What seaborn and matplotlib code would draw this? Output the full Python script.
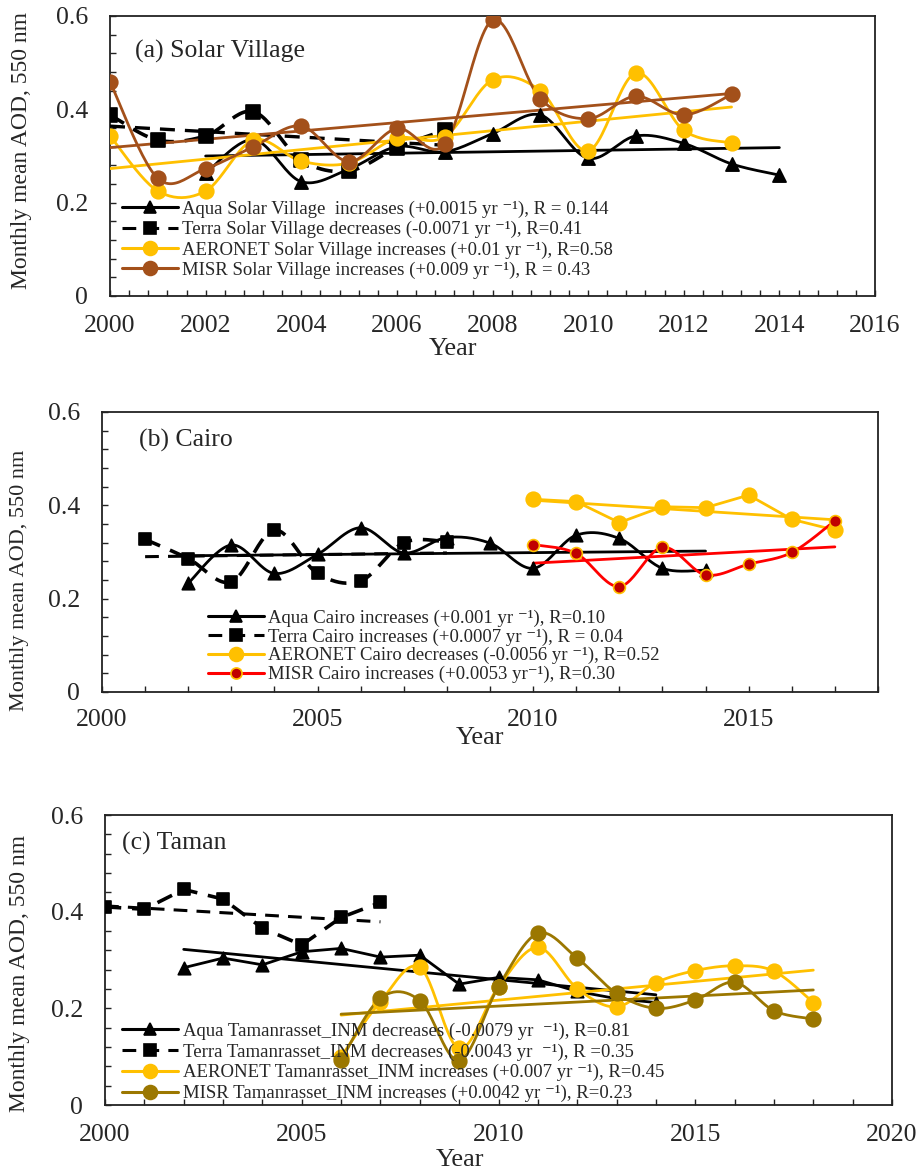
import numpy as np
import pandas as pd
import matplotlib
matplotlib.use("Agg")
import matplotlib.pyplot as plt
from matplotlib.lines import Line2D
from matplotlib.ticker import MultipleLocator
import seaborn as sns

sns.set_theme(style="white")
plt.rcParams['font.family'] = ['Liberation Serif', 'DejaVu Serif']

SUP = "\u207b\u00b9"  # superscript -1

# ---------------- data: (a) Solar Village ----------------
a_aqua_years = list(range(2002, 2015))
a_aqua = [0.263, 0.335, 0.245, 0.272, 0.320, 0.309, 0.348, 0.388, 0.295, 0.343, 0.327, 0.283, 0.259]
a_terra_years = list(range(2000, 2008))
a_terra = [0.388, 0.334, 0.343, 0.395, 0.291, 0.268, 0.318, 0.355]
a_aer_years = list(range(2000, 2014))
a_aer = [0.343, 0.225, 0.225, 0.334, 0.289, 0.285, 0.338, 0.341, 0.463, 0.440, 0.311, 0.478, 0.355, 0.328]
a_misr_years = list(range(2000, 2014))
a_misr = [0.459, 0.252, 0.273, 0.320, 0.364, 0.288, 0.359, 0.325, 0.591, 0.423, 0.380, 0.428, 0.388, 0.432]
a_trend_aqua = ([2002, 2014], [0.300, 0.318])
a_trend_terra = ([2000, 2007], [0.364, 0.323])
a_trend_aer = ([2000, 2013], [0.273, 0.405])
a_trend_misr = ([2000, 2013], [0.318, 0.434])
a_labels = ["Aqua Solar Village  increases (+0.0015 yr " + SUP + "), R = 0.144",
            "Terra Solar Village decreases (-0.0071 yr " + SUP + "), R=0.41",
            "AERONET Solar Village increases (+0.01 yr " + SUP + "), R=0.58",
            "MISR Solar Village increases (+0.009 yr " + SUP + "), R = 0.43"]

# ---------------- data: (b) Cairo ----------------
b_aqua_years = list(range(2002, 2015))
b_aqua = [0.233, 0.315, 0.254, 0.295, 0.352, 0.298, 0.331, 0.319, 0.265, 0.336, 0.329, 0.265, 0.261]
b_terra_years = list(range(2001, 2009))
b_terra = [0.327, 0.286, 0.236, 0.347, 0.254, 0.238, 0.320, 0.322]
b_aer_years = list(range(2010, 2018))
b_aer = [0.413, 0.408, 0.363, 0.397, 0.395, 0.422, 0.370, 0.347]
b_misr_years = list(range(2010, 2018))
b_misr = [0.316, 0.297, 0.226, 0.310, 0.251, 0.274, 0.299, 0.367]
b_trend_aqua = ([2002, 2014], [0.292, 0.302])
b_trend_terra = ([2001, 2008], [0.290, 0.298])
b_trend_aer = ([2010, 2017], [0.411, 0.369])
b_trend_misr = ([2010, 2017], [0.276, 0.311])
b_labels = ["Aqua Cairo increases (+0.001 yr " + SUP + "), R=0.10",
            "Terra Cairo increases (+0.0007 yr " + SUP + "), R = 0.04",
            "AERONET Cairo decreases (-0.0056 yr " + SUP + "), R=0.52",
            "MISR Cairo increases (+0.0053 yr" + SUP + "), R=0.30"]

# ---------------- data: (c) Taman ----------------
c_aqua_years = list(range(2002, 2015))
c_aqua = [0.284, 0.304, 0.290, 0.317, 0.324, 0.306, 0.310, 0.250, 0.264, 0.259, 0.235, 0.220, 0.212]
c_terra_years = list(range(2000, 2008))
c_terra = [0.410, 0.405, 0.446, 0.426, 0.366, 0.331, 0.388, 0.419]
c_aer_years = list(range(2006, 2019))
c_aer = [0.100, 0.214, 0.285, 0.117, 0.245, 0.326, 0.241, 0.203, 0.253, 0.278, 0.288, 0.277, 0.212]
c_misr_years = list(range(2006, 2019))
c_misr = [0.093, 0.221, 0.216, 0.092, 0.245, 0.355, 0.304, 0.231, 0.200, 0.217, 0.254, 0.195, 0.178]
c_trend_aqua = ([2002, 2014], [0.322, 0.228])
c_trend_terra = ([2000, 2007], [0.412, 0.379])
c_trend_aer = ([2006, 2018], [0.186, 0.279])
c_trend_misr = ([2006, 2018], [0.188, 0.238])
c_labels = ["Aqua Tamanrasset_INM decreases (-0.0079 yr  " + SUP + "), R=0.81",
            "Terra Tamanrasset_INM decreases (-0.0043 yr  " + SUP + "), R =0.35",
            "AERONET Tamanrasset_INM increases (+0.007 yr " + SUP + "), R=0.45",
            "MISR Tamanrasset_INM increases (+0.0042 yr " + SUP + "), R=0.23"]

YELLOW = "#FFC000"
BROWN = "#A3501A"
OLIVE = "#9B7700"
RED = "#FF0000"
DARKRED = "#C00000"
DASH = (4.5, 3)


def smooth(x, y, n=24):
    """Excel-like smoothed line (Catmull-Rom Bezier) through the points."""
    P = np.column_stack([np.asarray(x, float), np.asarray(y, float)])
    out = []
    m = len(P)
    for i in range(m - 1):
        p0 = P[i - 1] if i > 0 else P[i]
        p1 = P[i]
        p2 = P[i + 1]
        p3 = P[i + 2] if i + 2 < m else P[i + 1]
        c1 = p1 + (p2 - p0) / 6.0
        c2 = p2 - (p3 - p1) / 6.0
        t = np.linspace(0, 1, n, endpoint=(i == m - 2))[:, None]
        seg = ((1 - t) ** 3) * p1 + 3 * ((1 - t) ** 2) * t * c1 + 3 * (1 - t) * t ** 2 * c2 + t ** 3 * p2
        out.append(seg)
    out = np.vstack(out)
    return out[:, 0], out[:, 1]


def draw_series(ax, years, vals, color, marker, ms, lw=2.0, ls='-', smooth_line=True,
                mfc=None, mec=None, z=3):
    if smooth_line:
        sx, sy = smooth(years, vals)
    else:
        sx, sy = np.asarray(years, float), np.asarray(vals, float)
    ax.plot(sx, sy, color=color, lw=lw, ls=ls if ls == '-' else (0, DASH),
            zorder=z, solid_capstyle='butt')
    df = pd.DataFrame({"Year": years, "AOD": vals})
    sns.scatterplot(data=df, x="Year", y="AOD", ax=ax, marker=marker, s=ms ** 2,
                    color=mfc if mfc else color, edgecolor=mec if mec else color,
                    linewidth=1.2, zorder=z + 0.5, legend=False)


def draw_trend(ax, tr, color, lw=2.0, ls='-', z=3):
    df = pd.DataFrame({"Year": tr[0], "AOD": tr[1]})
    sns.lineplot(data=df, x="Year", y="AOD", ax=ax, color=color, lw=lw,
                 linestyle='-' if ls == '-' else (0, DASH), zorder=z, estimator=None, sort=False)


def handle(color, marker, ms, ls='-', mfc=None, mec=None, lw=2.2):
    return Line2D([], [], color=color, lw=lw, ls='-' if ls == '-' else (0, DASH),
                  marker=marker, markersize=ms, markerfacecolor=mfc if mfc else color,
                  markeredgecolor=mec if mec else color, markeredgewidth=1.2)


def style_axes(ax, xlim, xmajor, xminor, ylabel_size, tick_pad_x, ylab_xy):
    ax.set_xlim(*xlim)
    ax.set_ylim(0, 0.6)
    ax.xaxis.set_major_locator(MultipleLocator(xmajor))
    ax.xaxis.set_minor_locator(MultipleLocator(xminor))
    ax.yaxis.set_minor_locator(MultipleLocator(0.04))
    ax.set_yticks([0, 0.2, 0.4, 0.6])
    ax.set_yticklabels(["0", "0.2", "0.4", "0.6"])
    ax.tick_params(axis='both', which='both', direction='in', length=4.5, width=1.0,
                   color='#222222', labelsize=18.5, bottom=True, left=True, top=False, right=False)
    ax.tick_params(axis='x', which='major', pad=tick_pad_x)
    ax.tick_params(axis='y', which='major', pad=16)
    for s in ax.spines.values():
        s.set_color('#222222')
        s.set_linewidth(1.3)
        s.set_visible(True)
    ax.set_ylabel("Monthly mean AOD, 550 nm", fontsize=ylabel_size)
    ax.yaxis.set_label_coords(*ylab_xy)
    ax.grid(False)


fig = plt.figure(figsize=(9.19, 11.69), dpi=100)
W, H = 919.0, 1169.0

# ---------------- panel (a) ----------------
axa = fig.add_axes([110 / W, 1 - 296 / H, 765 / W, 280 / H])
draw_series(axa, a_aqua_years, a_aqua, 'black', '^', 9.5)
draw_trend(axa, a_trend_aqua, 'black')
draw_series(axa, a_terra_years, a_terra, 'black', 's', 9.5, lw=2.6, ls='--')
draw_trend(axa, a_trend_terra, 'black', lw=2.4, ls='--')
draw_series(axa, a_aer_years, a_aer, YELLOW, 'o', 10.5)
draw_trend(axa, a_trend_aer, YELLOW)
draw_series(axa, a_misr_years, a_misr, BROWN, 'o', 10.5)
draw_trend(axa, a_trend_misr, BROWN)
style_axes(axa, (2000, 2016), 2, 0.4, 17, 14, (-0.102, 0.52))
axa.set_xlabel("Year", fontsize=19)
axa.xaxis.set_label_coords(0.448, -0.15)
axa.text(0.033, 0.875, "(a) Solar Village", transform=axa.transAxes, fontsize=18.5, va='center')
ha = [handle('black', '^', 9), handle('black', 's', 9, ls='--'),
      handle(YELLOW, 'o', 10), handle(BROWN, 'o', 10)]
axa.legend(ha, a_labels, loc='upper left', bbox_to_anchor=(0.0157, 0.34), frameon=False,
           fontsize=13.5, handlelength=3.0, handletextpad=0.2, labelspacing=0.16,
           borderpad=0, borderaxespad=0)

# ---------------- panel (b) ----------------
axb = fig.add_axes([102 / W, 1 - 692 / H, 776 / W, 280 / H])
draw_series(axb, b_aqua_years, b_aqua, 'black', '^', 9)
draw_trend(axb, b_trend_aqua, 'black')
draw_series(axb, b_terra_years, b_terra, 'black', 's', 9, lw=2.6, ls='--')
draw_trend(axb, b_trend_terra, 'black', lw=2.2, ls='--')
draw_series(axb, b_aer_years, b_aer, YELLOW, 'o', 10.5, smooth_line=False)
draw_trend(axb, b_trend_aer, YELLOW)
draw_series(axb, b_misr_years, b_misr, RED, 'o', 8.5, mfc=DARKRED, mec=YELLOW)
draw_trend(axb, b_trend_misr, RED)
style_axes(axb, (2000, 2018), 5, 1, 16, 12, (-0.094, 0.40))
axb.set_xlabel("Year", fontsize=19)
axb.xaxis.set_label_coords(0.487, -0.125)
axb.text(0.048, 0.9, "(b) Cairo", transform=axb.transAxes, fontsize=18.5, va='center')
hb = [handle('black', '^', 9), handle('black', 's', 9, ls='--'),
      handle(YELLOW, 'o', 10), handle(RED, 'o', 8, mfc=DARKRED, mec=YELLOW)]
axb.legend(hb, b_labels, loc='upper left', bbox_to_anchor=(0.137, 0.295), frameon=False,
           fontsize=13.5, handlelength=2.95, handletextpad=0.25, labelspacing=0.08,
           borderpad=0, borderaxespad=0)

# ---------------- panel (c) ----------------
axc = fig.add_axes([105 / W, 1 - 1105 / H, 787 / W, 290 / H])
draw_series(axc, c_aqua_years, c_aqua, 'black', '^', 9, smooth_line=False)
draw_trend(axc, c_trend_aqua, 'black')
draw_series(axc, c_terra_years, c_terra, 'black', 's', 9, lw=2.6, ls='--', smooth_line=False)
draw_trend(axc, c_trend_terra, 'black', lw=2.2, ls='--')
draw_series(axc, c_aer_years, c_aer, YELLOW, 'o', 10.5)
draw_trend(axc, c_trend_aer, YELLOW)
draw_series(axc, c_misr_years, c_misr, OLIVE, 'o', 10.5)
draw_trend(axc, c_trend_misr, OLIVE)
style_axes(axc, (2000, 2020), 5, 1, 17, 14, (-0.095, 0.455))
axc.set_xlabel("Year", fontsize=19)
axc.xaxis.set_label_coords(0.451, -0.15)
axc.text(0.022, 0.903, "(c) Taman", transform=axc.transAxes, fontsize=18.5, va='center')
hc = [handle('black', '^', 9), handle('black', 's', 9, ls='--'),
      handle(YELLOW, 'o', 10), handle(OLIVE, 'o', 10)]
axc.legend(hc, c_labels, loc='upper left', bbox_to_anchor=(0.0216, 0.285), frameon=False,
           fontsize=13.5, handlelength=3.0, handletextpad=0.27, labelspacing=0.19,
           borderpad=0, borderaxespad=0)

fig.savefig("out.png", dpi=100)
